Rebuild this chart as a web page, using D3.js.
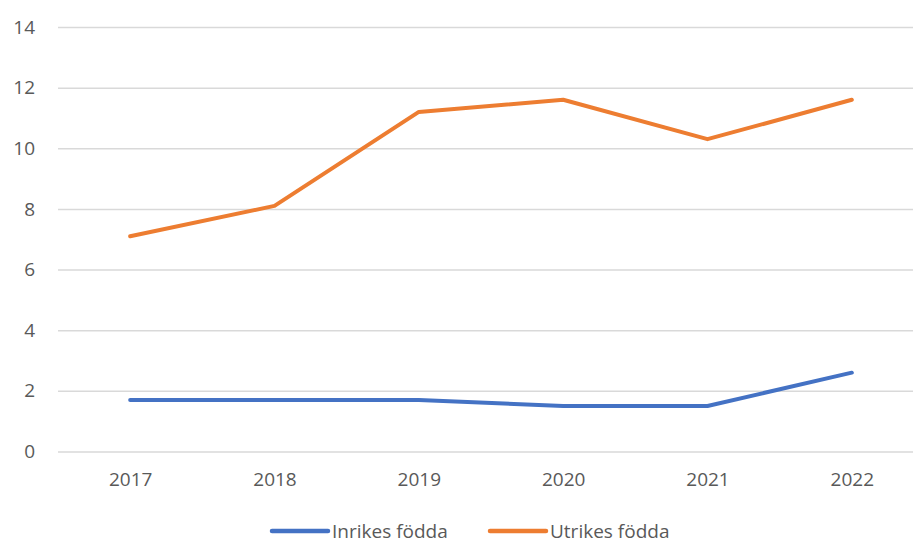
<!DOCTYPE html>
<html>
<head>
<meta charset="utf-8">
<script src="https://cdn.jsdelivr.net/npm/d3@7"></script>
<style>
  html, body { margin: 0; padding: 0; background: #fff; }
  svg { display: block; font-family: "Open Sans", sans-serif; }
  .tick text { fill: #595959; font-size: 19px; font-family: "Open Sans", sans-serif; }
  .legend text { fill: #595959; font-size: 19px; }
</style>
</head>
<body>
<svg id="chart" width="913" height="545"></svg>
<script>
var years = ["2017", "2018", "2019", "2020", "2021", "2022"];
var inrikes = [1.7, 1.7, 1.7, 1.5, 1.5, 2.6];
var utrikes = [7.1, 8.1, 11.2, 11.6, 10.3, 11.6];
var seriesNames = ["Inrikes födda", "Utrikes födda"];
var seriesColors = ["#4472C4", "#ED7D31"];
var yTicks = [0, 2, 4, 6, 8, 10, 12, 14];

var svg = d3.select("#chart");

var plotLeft = 58, plotRight = 924, plotTop = 27, plotBottom = 451.5;

var x = d3.scalePoint()
    .domain(years)
    .range([plotLeft, plotRight])
    .padding(0.5);

var y = d3.scaleLinear()
    .domain([0, 14])
    .range([plotBottom, plotTop]);

// grid + y labels
var yAxis = svg.append("g")
    .attr("transform", "translate(" + plotLeft + ",0)")
    .call(d3.axisLeft(y).tickValues(yTicks).tickSize(-(plotRight - plotLeft)).tickPadding(23).tickFormat(d3.format("d")));
yAxis.select(".domain").remove();
yAxis.attr("font-family", null).attr("font-size", null);
yAxis.selectAll(".tick line").attr("stroke", "#d9d9d9").attr("stroke-width", 1.5);

// x labels
var xAxis = svg.append("g")
    .attr("transform", "translate(0," + plotBottom + ")")
    .call(d3.axisBottom(x).tickSize(0).tickPadding(21));
xAxis.select(".domain").remove();
xAxis.attr("font-family", null).attr("font-size", null);

var line = d3.line()
    .x(function(d, i) { return x(years[i]); })
    .y(function(d) { return y(d); });

[inrikes, utrikes].forEach(function(vals, k) {
  svg.append("path")
      .datum(vals)
      .attr("fill", "none")
      .attr("stroke", seriesColors[k])
      .attr("stroke-width", 4)
      .attr("stroke-linejoin", "round")
      .attr("stroke-linecap", "round")
      .attr("d", line);
});

// legend
var legendX = [272, 490];
var legend = svg.append("g").attr("class", "legend");
seriesNames.forEach(function(name, k) {
  var g = legend.append("g").attr("transform", "translate(" + legendX[k] + ",531)");
  g.append("line")
      .attr("x1", 0).attr("x2", 56)
      .attr("stroke", seriesColors[k])
      .attr("stroke-width", 4.5)
      .attr("stroke-linecap", "round");
  g.append("text")
      .attr("x", 60)
      .attr("dy", "0.35em")
      .text(name);
});
</script>
</body>
</html>
